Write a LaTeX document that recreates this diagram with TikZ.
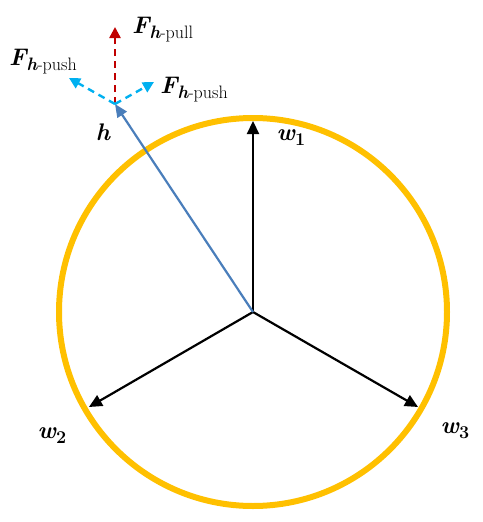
\documentclass[tikz,border=0pt]{standalone}
\usetikzlibrary{arrows.meta,positioning,calc}
\definecolor{rim}{HTML}{FFC000}
\definecolor{steel}{HTML}{4A7EBB}
\definecolor{pullred}{HTML}{C00000}
\definecolor{pushcyan}{HTML}{00B0F0}
\newcommand{\bsym}[1]{{\bfseries\itshape #1}}
\newcommand{\lowsub}[1]{\raisebox{-5pt}{\fontsize{18}{20}\selectfont #1}}
\tikzset{wvec/.style={-{Triangle[length=13pt,width=12pt]},draw=black,line width=2.2pt},
 hvec/.style={-{Triangle[length=13pt,width=11pt]},draw=steel,line width=2.2pt},
 forcevec/.style={-{Triangle[length=11pt,width=11pt]},dashed,dash pattern=on 7pt off 5pt,line width=2.4pt},
 lbl/.style={inner sep=1pt,font=\fontsize{24}{28}\selectfont}}

\begin{document}
\begin{tikzpicture}[x=1pt,y=-1pt]
\useasboundingbox (0,0) rectangle (482,522);
\coordinate (o) at (253,312);
\draw[rim,line width=6pt] (o) circle (194);
\coordinate (w1) at (253,121);
\coordinate (w2) at (89,407);
\coordinate (w3) at (418,407);
\coordinate (h) at (115,104);
\coordinate (pull) at (115,27);
\coordinate (pushl) at (69,78);
\coordinate (pushr) at (154,82);
\draw[wvec] (o)--(w1);\draw[wvec] (o)--(w2);\draw[wvec] (o)--(w3);
\draw[hvec] (o)--(h);
\draw[forcevec,draw=pullred] (h)--(pull);
\draw[forcevec,draw=pushcyan] (h)--(pushl);
\draw[forcevec,draw=pushcyan] (h)--(pushr);
\node[lbl] (lw1) at (291,138) {\bsym{w}\lowsub{\bfseries 1}};
\node[lbl] (lw2) at (52,436) {\bsym{w}\lowsub{\bfseries 2}};
\node[lbl] (lw3) at (455,431) {\bsym{w}\lowsub{\bfseries 3}};
\node[lbl] (lh) at (103,132) {\bsym{h}};
\node[lbl,anchor=west] (lpull) at (131,30) {\bsym{F}\lowsub{\bsym{h}-pull}};
\node[lbl,anchor=west] (lpushl) at (8,62) {\bsym{F}\lowsub{\bsym{h}-push}};
\node[lbl,anchor=west] (lpushr) at (159,90) {\bsym{F}\lowsub{\bsym{h}-push}};
\end{tikzpicture}
\end{document}
